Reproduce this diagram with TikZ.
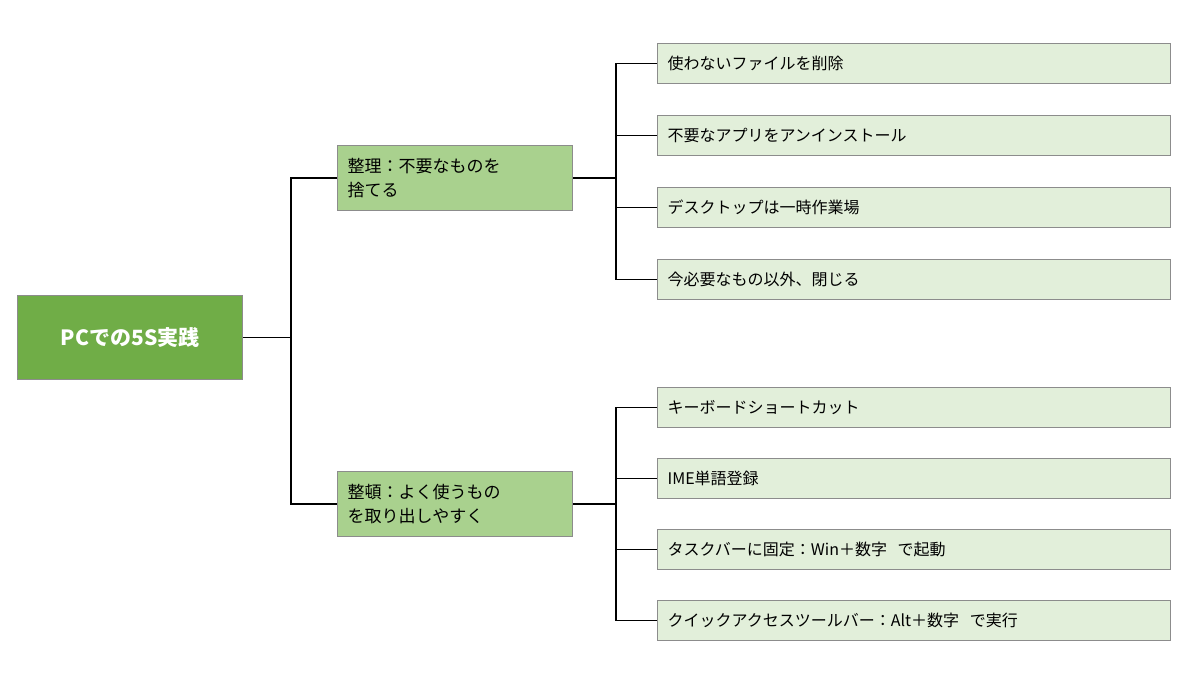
\documentclass[tikz,border=0pt]{standalone}
\usepackage{fontspec}
\setmainfont{Noto Sans CJK JP}
\usetikzlibrary{positioning}
\definecolor{rootgreen}{HTML}{70AD47}
\definecolor{midgreen}{HTML}{A9D18E}
\definecolor{leafgreen}{HTML}{E2EFDA}
\definecolor{edgegray}{HTML}{8C8C8C}
\begin{document}
\begin{tikzpicture}[x=1pt, y=-1pt,
        box/.style={draw=edgegray, line width=1.2pt, anchor=north west, inner sep=0pt},
        root/.style={box, fill=rootgreen, text=white, font=\fontsize{21}{25}\selectfont\bfseries,
            minimum width=225pt, minimum height=84pt, align=center},
        mid/.style={box, fill=midgreen, font=\fontsize{17}{24}\selectfont,
            minimum width=235pt, minimum height=65pt, text width=215pt, align=left},
        leaf/.style={box, fill=leafgreen, font=\fontsize{16}{20}\selectfont,
            minimum width=513pt, minimum height=40pt, text width=493pt, align=left},
        link/.style={line width=1.5pt}
    ]
        \useasboundingbox (0,0) rectangle (1200,675);
        % root and branches
        \node[root] (root) at (17,295) {PCでの5S実践};
        \node[mid] (seiri) at (337,145) {整理：不要なものを\\捨てる};
        \node[mid] (seiton) at (337,471) {整頓：よく使うもの\\を取り出しやすく};
        
        % leaves
        \node[leaf] (a1) at (657,43) {使わないファイルを削除};
        \node[leaf] (a2) at (657,115) {不要なアプリをアンインストール};
        \node[leaf] (a3) at (657,187) {デスクトップは一時作業場};
        \node[leaf] (a4) at (657,259) {今必要なもの以外、閉じる};
        \node[leaf] (b1) at (657,387) {キーボードショートカット};
        \node[leaf] (b2) at (657,458) {IME単語登録};
        \node[leaf] (b3) at (657,529) {タスクバーに固定：Win＋数字\ \ で起動};
        \node[leaf] (b4) at (657,600) {クイックアクセスツールバー：Alt＋数字\ \ で実行};
        
        % connectors
        \foreach \m in {seiri, seiton}
            \draw[link] (root.east) -- ++(48,0) |- (\m.west);
        \foreach \l in {a1, a2, a3, a4}
            \draw[link] (seiri.east) -- ++(43,0) |- (\l.west);
        \foreach \l in {b1, b2, b3, b4}
            \draw[link] (seiton.east) -- ++(43,0) |- (\l.west);
    \end{tikzpicture}
\end{document}
